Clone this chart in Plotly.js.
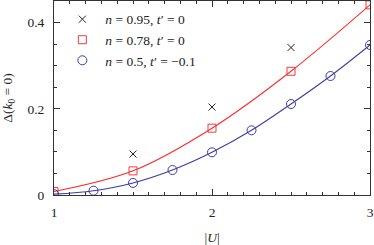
<!DOCTYPE html>
<html><head><meta charset="utf-8">
<script src="https://cdn.plot.ly/plotly-3.0.1.min.js"></script>
<style>html,body{margin:0;padding:0;background:#fff}#c{width:374px;height:245px}</style>
</head><body><div id="c"></div>
<script>
const crossU = [1.5, 2.0, 2.5];
const crossDelta = [0.095, 0.204, 0.342];
const squareU = [1.0, 1.5, 2.0, 2.5, 3.0];
const squareDelta = [0.008, 0.056, 0.155, 0.287, 0.441];
const circleU = [1.0, 1.25, 1.5, 1.75, 2.0, 2.25, 2.5, 2.75, 3.0];
const circleDelta = [0.002, 0.010, 0.028, 0.058, 0.099, 0.150, 0.211, 0.276, 0.348];
const names = ['<i>n</i> = 0.95, <i>t</i>′ = 0', '<i>n</i> = 0.78, <i>t</i>′ = 0', '<i>n</i> = 0.5, <i>t</i>′ = −0.1'];

const red = '#f03a3a', blue = '#3c3ca4', black = '#222';
const font = {family: '"Liberation Serif", "Times New Roman", serif', size: 13.5, color: '#222'};

const traces = [
  {x: squareU, y: squareDelta, mode: 'lines', line: {color: '#ff2a2a', width: 1.1, shape: 'spline'}, showlegend: false, hoverinfo: 'skip'},
  {x: circleU, y: circleDelta, mode: 'lines', line: {color: blue, width: 1.1, shape: 'spline'}, showlegend: false, hoverinfo: 'skip'},
  {x: crossU, y: crossDelta, mode: 'markers', name: names[0], marker: {symbol: 'x-thin-open', size: 7, color: black, line: {color: black, width: 1}}},
  {x: squareU, y: squareDelta, mode: 'markers', name: names[1], marker: {symbol: 'square-open', size: 8, color: red, line: {color: red, width: 1}}},
  {x: circleU, y: circleDelta, mode: 'markers', name: names[2], marker: {symbol: 'circle-open', size: 9, color: blue, line: {color: blue, width: 1}}}
];

const axisCommon = {
  showline: true, linecolor: '#333', linewidth: 1, mirror: 'ticks',
  ticks: 'inside', ticklen: 6, tickcolor: '#333', tickwidth: 1,
  showgrid: false, zeroline: false, tickfont: font
};

const layout = {
  width: 374, height: 245,
  margin: {l: 54, r: 4, t: 1, b: 50},
  paper_bgcolor: '#fff', plot_bgcolor: '#fff',
  font: font,
  xaxis: Object.assign({}, axisCommon, {
    range: [1, 3], tickvals: [1, 2, 3], ticktext: ['1', '2', '3'],
    ticklabelstandoff: 5,
    minor: {dtick: 0.1, ticks: 'inside', ticklen: 3, tickcolor: '#333', showgrid: false},
    title: {text: '|<i>U</i>|', font: font, standoff: 14}
  }),
  yaxis: Object.assign({}, axisCommon, {
    range: [0, 0.45], tickvals: [0, 0.2, 0.4], ticktext: ['0', '0.2', '0.4'],
    ticklabelstandoff: 6,
    minor: {dtick: 0.05, ticks: 'inside', ticklen: 3, tickcolor: '#333', showgrid: false},
    title: {text: 'Δ(<i>k</i><sub>0</sub> = 0)', font: font, standoff: 14}
  }),
  legend: {x: 0.017, y: 0.985, xanchor: 'left', yanchor: 'top', itemwidth: 36, bgcolor: 'rgba(0,0,0,0)', font: font, tracegroupgap: 0}
};

Plotly.newPlot('c', traces, layout, {displayModeBar: false, staticPlot: true});
</script></body></html>
